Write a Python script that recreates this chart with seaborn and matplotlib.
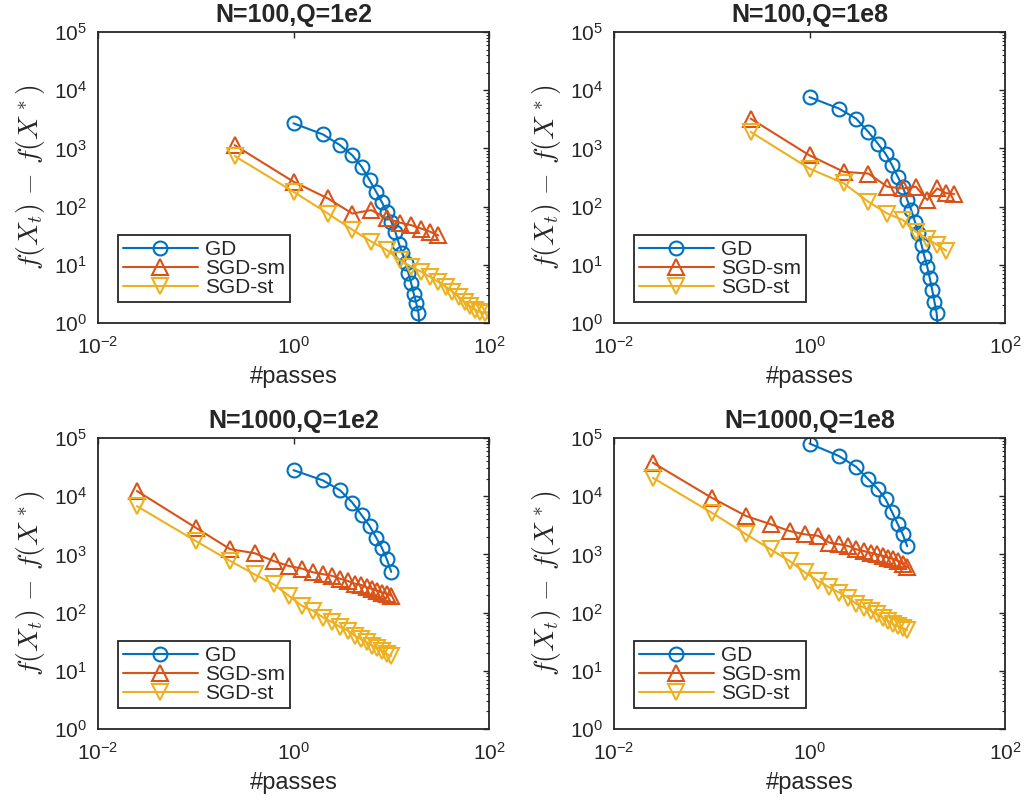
import numpy as np
import pandas as pd
import matplotlib
matplotlib.use("Agg")
import matplotlib.pyplot as plt
import matplotlib.ticker as mticker
import seaborn as sns

# passes: GD uses one full pass per step, SGD variants use k^2/4 (N=100) or k^2/40 (N=1000)
gd_x_100 = [1, 2, 3, 4, 5, 6, 7, 8, 9, 10, 11, 12, 13, 14, 15, 16, 17, 18, 19, 20, 21]
gd_x_1000 = [1, 2, 3, 4, 5, 6, 7, 8, 9, 10]
sgd_x_100 = [0.25, 1, 2.25, 4, 6.25, 9, 12.25, 16, 20.25, 25, 30.25, 36, 42.25,
             49, 56.25, 64, 72.25, 81, 90.25, 100]
sgd_x_1000 = [0.025, 0.1, 0.225, 0.4, 0.625, 0.9, 1.225, 1.6, 2.025, 2.5, 3.025,
              3.6, 4.225, 4.9, 5.625, 6.4, 7.225, 8.1, 9.025, 10]

# N=100, Q=1e2
gd_a = [2700, 1740, 1135, 760, 480, 285, 180, 120, 81, 55, 37, 23, 15.7, 10.6,
        7.1, 4.8, 3.2, 2.2, 1.47, 0.5]
sm_a = [1135, 268, 138, 76, 87, 63, 53, 48, 42, 37, 32]
st_a = [740, 180, 76, 40, 25, 18, 12, 9.3, 7.6, 6.2, 5.1, 4.2, 3.45, 2.8, 2.3,
        1.96, 1.7, 1.56, 1.5, 1.55]

# N=100, Q=1e8
gd_b = [7600, 4840, 3250, 1920, 1210, 810, 515, 325, 220, 130, 87, 55, 35, 22,
        13.8, 9.3, 5.9, 3.7, 2.3, 1.47, 0.5]
sm_b = [3250, 760, 395, 370, 220, 205, 220, 130, 205, 170, 165]
st_b = [1920, 450, 250, 121, 76, 59, 37, 28, 22, 17.5]

# N=1000, Q=1e2
gd_c = [28000, 18700, 12600, 7760, 4670, 3080, 1950, 1310, 830, 500]
sm_c = [12300, 2880, 1230, 1050, 770, 630, 570, 490, 455, 427, 380, 350, 315,
        300, 270, 255, 235, 220, 210, 195]
st_c = [6760, 1700, 770, 455, 307, 194, 130, 107, 82, 68, 56, 49, 40, 35, 31,
        27, 25, 22, 19.4, 18]

# N=1000, Q=1e8
gd_d = [80400, 49000, 32000, 19500, 13300, 8900, 5300, 3300, 2210, 1380]
sm_d = [37600, 9400, 4560, 3300, 2520, 2210, 2090, 1590, 1490, 1390, 1220, 1140,
        1070, 1000, 940, 880, 830, 770, 680, 600]
st_d = [20700, 5200, 2210, 1220, 770, 490, 350, 270, 220, 180, 140, 122, 107,
        94, 82, 72, 63, 59, 54, 50]

titles = ["N=100,Q=1e2", "N=100,Q=1e8", "N=1000,Q=1e2", "N=1000,Q=1e8"]
methods = ["GD", "SGD-sm", "SGD-st"]
colors = ["#0072BD", "#D95319", "#EDB120"]
markers = ["o", "^", "v"]
msizes = [10, 12, 12]

sns.set_style("white")
plt.rcParams["font.family"] = ["Liberation Sans", "DejaVu Sans"]
plt.rcParams["mathtext.fontset"] = "cm"

fig = plt.figure(figsize=(10.3, 8.02), dpi=100)
W, H = 1030, 802
boxes = [(98, 32), (614, 32), (98, 438), (614, 438)]
panels = [
    (gd_x_100[:len(gd_a)], gd_a, sgd_x_100[:len(sm_a)], sm_a, sgd_x_100, st_a),
    (gd_x_100, gd_b, sgd_x_100[:len(sm_b)], sm_b, sgd_x_100[:len(st_b)], st_b),
    (gd_x_1000, gd_c, sgd_x_1000, sm_c, sgd_x_1000, st_c),
    (gd_x_1000, gd_d, sgd_x_1000, sm_d, sgd_x_1000, st_d),
]

for i, (left, top) in enumerate(boxes):
    ax = fig.add_axes([left / W, 1 - (top + 291) / H, 391 / W, 291 / H])
    gx, gy, mx, my, sx, sy = panels[i]
    series = [(gx, gy), (mx, my), (sx, sy)]
    for (xs, ys), name, c, m, ms in zip(series, methods, colors, markers, msizes):
        df = pd.DataFrame({"passes": xs, "gap": ys})
        sns.lineplot(data=df, x="passes", y="gap", ax=ax, color=c, marker=m,
                     markersize=ms, markerfacecolor="none", markeredgecolor=c,
                     markeredgewidth=1.5, linewidth=1.5, label=name)
    ax.set_xscale("log")
    ax.set_yscale("log")
    ax.set_xlim(1e-2, 1e2)
    ax.set_ylim(1, 1e5)
    ax.xaxis.set_major_locator(mticker.FixedLocator([1e-2, 1, 1e2]))
    ax.xaxis.set_minor_locator(mticker.NullLocator())
    ax.yaxis.set_major_locator(mticker.LogLocator(base=10, numticks=10))
    ax.yaxis.set_minor_locator(mticker.LogLocator(base=10, subs=np.arange(2, 10), numticks=10))
    ax.yaxis.set_minor_formatter(mticker.NullFormatter())
    ax.tick_params(which="both", direction="in", top=True, right=True,
                   colors="#262626", labelcolor="#262626", labelsize=15)
    ax.tick_params(which="major", length=4, width=1.0)
    ax.tick_params(which="minor", length=2.2, width=0.8)
    ax.tick_params(axis="x", which="major", pad=9)
    ax.tick_params(axis="y", which="major", pad=8)
    for sp in ax.spines.values():
        sp.set_linewidth(1.3)
        sp.set_color("#262626")
    ax.set_title(titles[i], fontsize=18, fontweight="bold", pad=7)
    ax.set_xlabel("#passes", fontsize=17, color="#262626", labelpad=6)
    ax.set_ylabel(r"$f(X_t)\,-\,f(X^*)$", fontsize=20, color="#262626", labelpad=5)
    leg = ax.legend(loc="lower left", bbox_to_anchor=(0.05, 0.072), borderaxespad=0,
                    fontsize=15, handlelength=3.6, handletextpad=0.35,
                    labelspacing=0.0, borderpad=0.25, fancybox=False, framealpha=1)
    leg.get_frame().set_edgecolor("#262626")
    leg.get_frame().set_linewidth(1.3)

fig.savefig("out.png", dpi=100)
